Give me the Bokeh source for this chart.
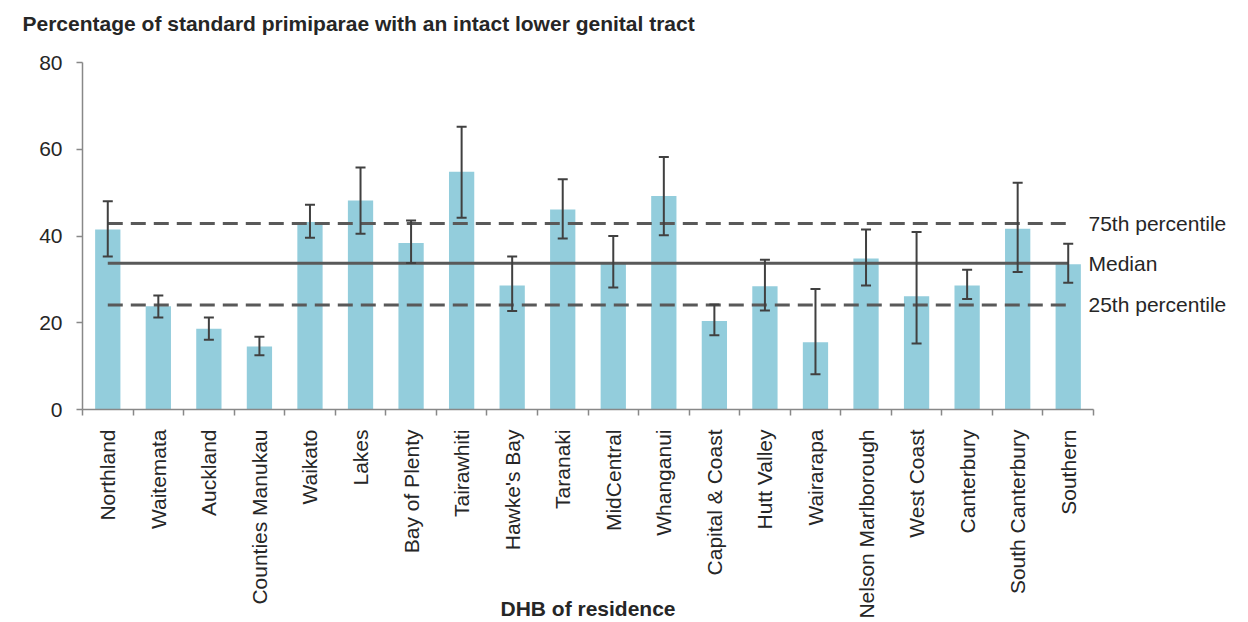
import math
from bokeh.plotting import figure
from bokeh.models import (ColumnDataSource, Range1d, FixedTicker, Whisker, TeeHead, LinearAxis, Title)
from bokeh.embed import file_html
from bokeh.resources import INLINE

categories = ["Northland", "Waitemata", "Auckland", "Counties Manukau", "Waikato", "Lakes",
              "Bay of Plenty", "Tairawhiti", "Hawke's Bay", "Taranaki", "MidCentral", "Whanganui",
              "Capital & Coast", "Hutt Valley", "Wairarapa", "Nelson Marlborough", "West Coast",
              "Canterbury", "South Canterbury", "Southern"]
values = [41.5, 23.8, 18.6, 14.5, 43.2, 48.2, 38.4, 54.8, 28.6, 46.1, 33.6, 49.2,
          20.4, 28.4, 15.5, 34.8, 26.1, 28.6, 41.7, 33.5]
upper = [48.0, 26.3, 21.2, 16.8, 47.2, 55.8, 43.6, 65.2, 35.3, 53.1, 40.0, 58.2,
         24.2, 34.5, 27.8, 41.5, 40.9, 32.2, 52.3, 38.2]
lower = [35.3, 21.2, 16.1, 12.5, 39.6, 40.5, 33.8, 44.2, 22.7, 39.4, 28.1, 40.2,
         17.1, 22.8, 8.1, 28.6, 15.2, 25.5, 31.7, 29.2]
ref_names = ["75th percentile", "Median", "25th percentile"]
ref_values = [42.9, 33.7, 24.1]
y_ticks = [0, 20, 40, 60, 80]

FONT = "Liberation Sans"
TXT = "#262626"
AX = "#888888"
FS = "21px"

n = len(categories)
xs = [i + 0.5 for i in range(n)]
src = ColumnDataSource(dict(x=xs, top=values, upper=upper, lower=lower, name=categories))

p = figure(width=1248, height=622, output_backend="svg", toolbar_location=None,
           x_range=Range1d(0, n), y_range=Range1d(0, 80), title=None,
           min_border_left=82, min_border_right=155, min_border_top=62, min_border_bottom=213)
p.outline_line_color = None
p.xgrid.visible = False
p.ygrid.visible = False
p.background_fill_color = "white"

# spacer (closest to the frame), then the real title above it
p.add_layout(Title(text=" ", text_font=FONT, text_font_size="21px", standoff=3), "above")
p.add_layout(Title(text="Percentage of standard primiparae with an intact lower genital tract",
                   text_font=FONT, text_font_size="21px", text_font_style="bold",
                   text_color=TXT, align="left", offset=-60, standoff=0), "above")

p.vbar(x="x", top="top", width=0.5, bottom=0, source=src, fill_color="#93CDDC", line_color=None)

for name, v in zip(ref_names, ref_values):
    dash = "solid" if name == "Median" else "15 8"
    p.line(x=[xs[0], xs[-1]], y=[v, v], line_color="#595959", line_width=3, line_dash=dash)

w = Whisker(base="x", upper="upper", lower="lower", source=src, level="overlay",
            line_color="#404040", line_width=2,
            upper_head=TeeHead(size=10, line_color="#404040", line_width=2),
            lower_head=TeeHead(size=10, line_color="#404040", line_width=2))
p.add_layout(w)

# y axis
ya = p.yaxis[0]
ya.ticker = FixedTicker(ticks=y_ticks)
ya.axis_line_color = AX
ya.axis_line_width = 1.5
ya.major_tick_line_color = AX
ya.major_tick_line_width = 1.5
ya.major_tick_out = 6
ya.major_tick_in = 0
ya.minor_tick_line_color = None
ya.major_label_standoff = 14
ya.major_label_text_font = FONT
ya.major_label_text_font_size = FS
ya.major_label_text_color = TXT

# right-hand labels for the reference lines
ra = LinearAxis(ticker=FixedTicker(ticks=ref_values),
                major_label_overrides={v: nm for v, nm in zip(ref_values, ref_names)})
ra.axis_line_color = None
ra.major_tick_line_color = None
ra.minor_tick_line_color = None
ra.major_tick_out = 0
ra.major_tick_in = 0
ra.major_label_standoff = -5
ra.major_label_text_font = FONT
ra.major_label_text_font_size = FS
ra.major_label_text_color = TXT
p.add_layout(ra, "right")

# x axis
xa = p.xaxis[0]
xa.ticker = FixedTicker(ticks=xs, minor_ticks=list(range(n + 1)))
xa.major_label_overrides = {x: c for x, c in zip(xs, categories)}
xa.major_label_orientation = math.pi / 2
xa.axis_line_color = AX
xa.axis_line_width = 1.5
xa.major_tick_line_color = None
xa.major_tick_out = 0
xa.major_tick_in = 0
xa.minor_tick_line_color = AX
xa.minor_tick_line_width = 1.5
xa.minor_tick_out = 6
xa.minor_tick_in = 0
xa.major_label_standoff = 14
xa.major_label_text_font = FONT
xa.major_label_text_font_size = FS
xa.major_label_text_color = TXT
xa.axis_label = "DHB of residence"
xa.axis_label_standoff = -25
xa.axis_label_text_font = FONT
xa.axis_label_text_font_size = "21px"
xa.axis_label_text_font_style = "bold"
xa.axis_label_text_color = TXT

open("out.html", "w").write(file_html(p, INLINE))
